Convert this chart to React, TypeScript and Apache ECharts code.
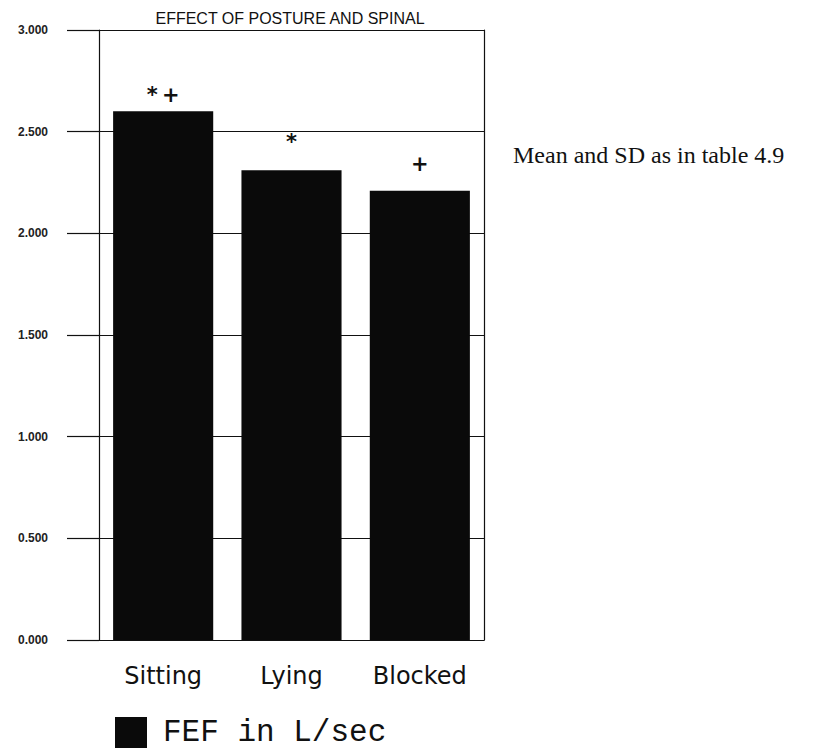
import React, { useEffect, useRef } from "react";
import * as echarts from "echarts";

const categories = ["Sitting", "Lying", "Blocked"];
const fefValues = [2.6, 2.31, 2.21];
const markers = ["*\u2009+", "*", "+"];
const yTicks = { min: 0, max: 3, interval: 0.5 };
const seriesName = "FEF in L/sec";
const chartTitle = "EFFECT OF POSTURE AND SPINAL";
const note = "Mean and SD as in table 4.9";

export default function App() {
  const ref = useRef<HTMLDivElement>(null);
  useEffect(() => {
    if (!ref.current) return;
    const chart = echarts.init(ref.current, null, { renderer: "svg" });
    const gaps = [6, 18, 16];
    chart.setOption({
      animation: false,
      backgroundColor: "#fff",
      grid: { left: 99, right: 342, top: 30, bottom: 113 },
      graphic: [
        {
          type: "text",
          x: 290,
          y: 18,
          style: {
            text: chartTitle,
            fontFamily: "Liberation Sans",
            fontSize: 16,
            fill: "#111",
            align: "center",
            verticalAlign: "middle",
          },
        },
        {
          type: "text",
          x: 513,
          y: 155,
          style: {
            text: note,
            fontFamily: "Liberation Serif",
            fontSize: 24,
            fill: "#111",
            align: "left",
            verticalAlign: "middle",
          },
        },
      ],
      legend: {
        left: 115,
        top: 717,
        padding: 0,
        itemWidth: 32,
        itemHeight: 31,
        icon: "rect",
        data: [seriesName],
        textStyle: {
          fontFamily: "Liberation Mono",
          fontSize: 31,
          lineHeight: 31,
          color: "#111",
          padding: [0, 0, 0, 11],
        },
      },
      xAxis: {
        type: "category",
        data: categories,
        axisLine: { show: true, lineStyle: { color: "#111", width: 1.2 } },
        axisTick: { show: false },
        axisLabel: {
          margin: 24,
          fontFamily: "DejaVu Sans",
          fontSize: 24,
          color: "#111",
        },
      },
      yAxis: [
        {
          type: "value",
          min: yTicks.min,
          max: yTicks.max,
          interval: yTicks.interval,
          axisLine: { show: true, lineStyle: { color: "#111", width: 1.2 } },
          axisTick: { show: true, length: 32, lineStyle: { color: "#111", width: 1.2 } },
          splitLine: { show: true, lineStyle: { color: "#111", width: 1.2 } },
          axisLabel: {
            margin: 51,
            fontFamily: "Liberation Sans",
            fontSize: 12,
            fontWeight: "bold",
            color: "#222",
            formatter: (v: number) => v.toFixed(3),
          },
        },
        {
          type: "value",
          min: yTicks.min,
          max: yTicks.max,
          interval: yTicks.interval,
          position: "right",
          axisLine: { show: true, lineStyle: { color: "#111", width: 1.2 } },
          axisTick: { show: false },
          axisLabel: { show: false },
          splitLine: { show: false },
        },
      ],
      series: [
        {
          name: seriesName,
          type: "bar",
          barWidth: "78%",
          itemStyle: { color: "#0a0a0a" },
          data: fefValues.map((v, i) => ({
            value: v,
            label: {
              show: true,
              position: "top",
              distance: gaps[i],
              formatter: markers[i],
              fontFamily: "DejaVu Sans",
              fontSize: 21,
              fontWeight: "bold",
              color: "#111",
            },
          })),
        },
      ],
    });
    return () => chart.dispose();
  }, []);
  return (
    <div
      ref={ref}
      style={{ position: "fixed", left: 0, top: 0, width: 826, height: 753 }}
    />
  );
}
